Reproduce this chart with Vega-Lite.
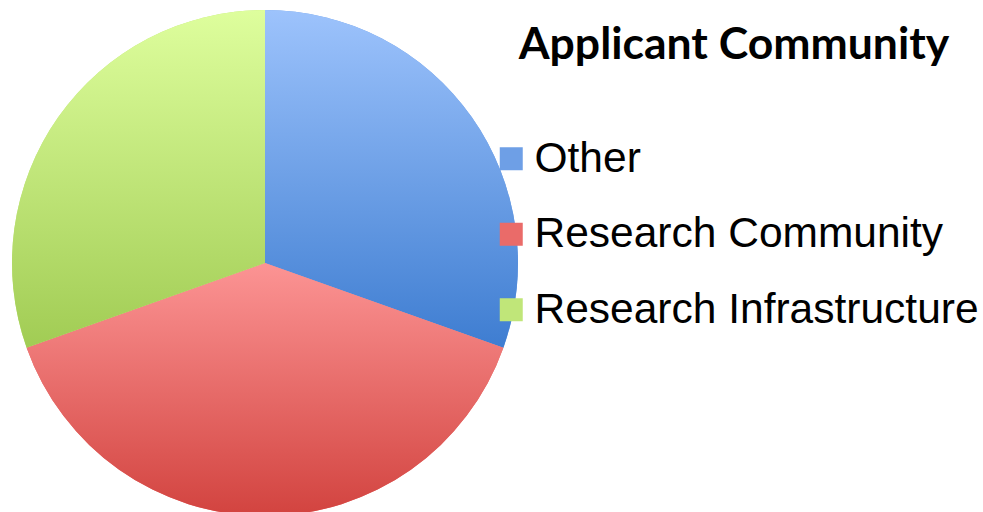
{
  "$schema": "https://vega.github.io/schema/vega-lite/v6.json",
  "width": 530,
  "height": 526,
  "padding": 0,
  "background": "white",
  "config": {"view": {"stroke": null}},
  "data": {
    "values": [
      {"community": "Other", "count": 7},
      {"community": "Research Community", "count": 9},
      {"community": "Research Infrastructure", "count": 7}
    ]
  },
  "layer": [
    {
      "mark": {"type": "arc", "radius": 253, "strokeWidth": 0},
      "encoding": {
        "theta": {"field": "count", "type": "quantitative", "stack": true},
        "color": {
          "field": "community",
          "type": "nominal",
          "scale": {
            "domain": ["Other", "Research Community", "Research Infrastructure"],
            "range": ["#6e9fe6", "#ea6b69", "#c0e679"]
          },
          "legend": {
            "title": "Applicant Community",
            "orient": "none",
            "legendX": 490,
            "legendY": 24,
            "titleFont": "Lato",
            "titleFontSize": 44.5,
            "titleFontWeight": "bold",
            "titleColor": "#000000",
            "titleAnchor": "middle",
            "titleAlign": "center",
            "titlePadding": 69,
            "titleLimit": 1000,
            "labelFont": "Liberation Sans",
            "labelFontSize": 42.5,
            "labelColor": "#000000",
            "labelLimit": 1000,
            "labelOffset": 2,
            "symbolType": "square",
            "symbolSize": 529,
            "symbolStrokeWidth": 0,
            "symbolOpacity": 1,
            "rowPadding": 32.5
          }
        }
      }
    },
    {
      "mark": {"type": "arc", "radius": 253, "strokeWidth": 0},
      "encoding": {
        "theta": {"field": "count", "type": "quantitative", "stack": true},
        "detail": {"field": "community", "type": "nominal"},
        "color": {
          "condition": [
            {"test": "datum.community === 'Other'", "value": {"gradient": "linear", "x1": 0, "y1": 0, "x2": 0, "y2": 1, "stops": [{"offset": 0, "color": "#9dc3fc"}, {"offset": 1, "color": "#3e7dd1"}]}},
            {"test": "datum.community === 'Research Community'", "value": {"gradient": "linear", "x1": 0, "y1": 0, "x2": 0, "y2": 1, "stops": [{"offset": 0, "color": "#fc9494"}, {"offset": 1, "color": "#d2433f"}]}}
          ],
          "value": {"gradient": "linear", "x1": 0, "y1": 0, "x2": 0, "y2": 1, "stops": [{"offset": 0, "color": "#defe9d"}, {"offset": 1, "color": "#a1cc54"}]}
        }
      }
    }
  ]
}
